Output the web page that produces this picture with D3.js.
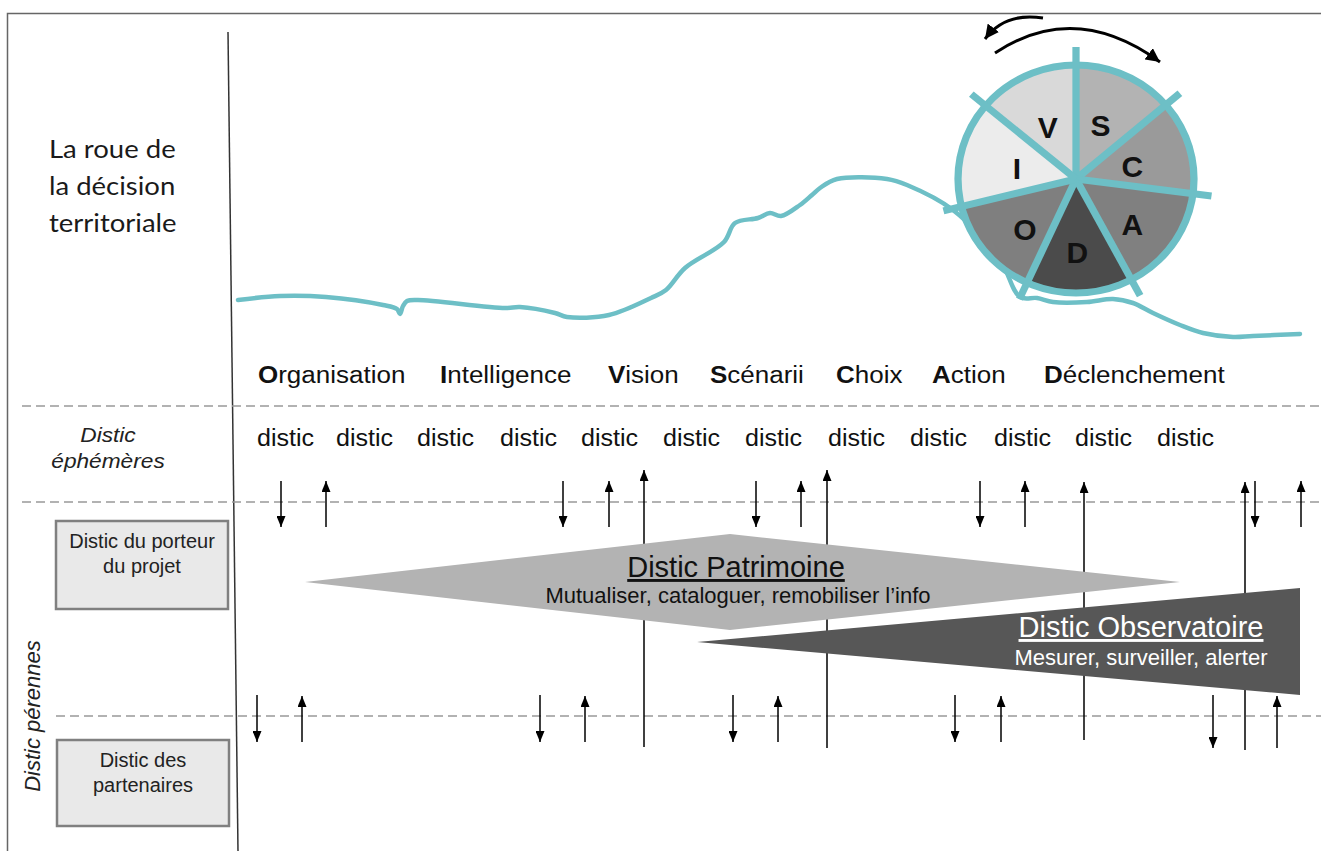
<!DOCTYPE html>
<html>
<head>
<meta charset="utf-8">
<script src="https://cdn.jsdelivr.net/npm/d3@7"></script>
<style>
  body { margin: 0; background: #fff; }
  svg { display: block; }
</style>
</head>
<body>
<div id="chart"></div>
<script>
// --- data (timeline units = px from the separator) ---
const titleLines = ["La roue de", "la décision", "territoriale"];
const phases = ["Organisation", "Intelligence", "Vision", "Scénarii", "Choix", "Action", "Déclenchement"];
const phasePos = [18, 200, 368, 470, 596, 692, 804];
const disticPos = [17, 96, 177, 260, 341, 423, 505, 588, 670, 754, 835, 917];

// small exchange arrows
const upperDown = [41, 323, 516, 740, 1015];
const upperUp = [86, 369, 561, 785, 1061];
const lowerDown = [17, 300, 493, 715, 973];
const lowerUp = [62, 345, 538, 761, 1037];
const lowerEnd = [742, 742, 742, 742, 748];
// long arrows crossing the lanes
const longPos = [404, 587, 844, 1005];
const longTop = [470, 470, 482, 482];
const longBottom = [747, 748, 740, 750];

// wedge shapes [t, y]
const patrimoine = [[65, 582], [490, 534], [940, 582], [490, 630]];
const observatoire = [[457, 642], [1060, 588], [1060, 695]];

// terrain line [t, y]
const terrainT = [-2, 40, 86, 143, 157, 160, 163, 167, 178, 265, 280, 315, 327, 369, 411, 426, 445, 484, 495, 518, 530, 541, 560, 572, 580, 597, 647, 667, 713, 760, 780, 797, 813, 847, 873, 893, 913, 940, 963, 993, 1013, 1060];
const terrainY = [300, 296, 297, 305, 309, 314, 306, 301, 300, 308, 307, 313, 317, 315, 298, 290, 268, 242, 223, 218, 213, 216, 205, 195, 188, 179, 179, 185, 210, 260, 297, 298, 302, 302, 299, 303, 313, 325, 333, 337, 336, 334];

// wheel
const wheelLetters = ["S", "C", "A", "D", "O", "I", "V"];
const wheelBounds = [0, 49.5, 97.4, 152, 204.5, 256, 310, 360];
const wheelShades = ["#b3b3b3", "#9a9a9a", "#808080", "#4b4b4b", "#7f7f7f", "#ececec", "#d9d9d9"];
const letterAngle = [24, 77, 130, 179, 224, 280, 332];
const letterRadius = [58, 56, 71, 74, 71, 58, 58];

// --- layout ---
const W = 1321, H = 851;
const SANS = "'Liberation Sans', Arial, sans-serif";
const TEAL = "#6dbfc6";
const x = d3.scaleLinear().domain([0, 1060]).range([240, 1300]);
const WX = 1076, WY = 179, WR = 114;

const svg = d3.select("#chart").append("svg")
  .attr("width", W).attr("height", H)
  .style("font-family", SANS);

const defs = svg.append("defs");
const marker = (id, w, h) => defs.append("marker")
  .attr("id", id)
  .attr("viewBox", `0 0 ${h} ${w}`)
  .attr("refX", h).attr("refY", w / 2)
  .attr("markerWidth", h).attr("markerHeight", w)
  .attr("markerUnits", "userSpaceOnUse")
  .attr("orient", "auto")
  .append("path")
  .attr("d", `M0,0L${h},${w / 2}L0,${w}Z`)
  .attr("fill", "#000");
marker("head", 9, 11);
marker("bighead", 14, 14);

// stretch text horizontally (the source figure is a bit widened)
function stretch(sel, k) {
  sel.each(function () {
    const w = this.getComputedTextLength();
    d3.select(this).attr("textLength", w * k).attr("lengthAdjust", "spacingAndGlyphs");
  });
}

// frame
svg.append("path")
  .attr("d", `M7.5,${H}V13.5H${W}`)
  .attr("fill", "none").attr("stroke", "#666").attr("stroke-width", 1.5);

// separator
svg.append("line")
  .attr("x1", 228).attr("y1", 32).attr("x2", 238).attr("y2", H)
  .attr("stroke", "#333").attr("stroke-width", 1.5);

// dashed lane borders
[[22, 406], [22, 502], [56, 716]].forEach(([x0, y]) => {
  svg.append("line")
    .attr("x1", x0).attr("x2", W).attr("y1", y).attr("y2", y)
    .attr("stroke", "#999").attr("stroke-width", 1.5)
    .attr("stroke-dasharray", "9,5");
});

// title
const title = svg.append("g").selectAll("text")
  .data(titleLines).enter().append("text")
  .attr("x", 49).attr("y", (d, i) => 158 + i * 37)
  .style("font-family", "Lato, 'Open Sans', sans-serif")
  .style("font-size", "25px").attr("fill", "#1a1a1a")
  .text(d => d);
stretch(title, 1.1);

// terrain
const terrain = terrainT.map((t, i) => [x(t), terrainY[i]]);
svg.append("path")
  .attr("d", d3.line().curve(d3.curveCatmullRom.alpha(0.5))(terrain))
  .attr("fill", "none").attr("stroke", TEAL).attr("stroke-width", 4.5)
  .attr("stroke-linejoin", "round").attr("stroke-linecap", "round");

// wheel (slightly widened like the source)
const rad = a => a * Math.PI / 180;
const wheel = svg.append("g").attr("transform", `translate(${WX},${WY}) scale(1.035,1)`);
const arc = d3.arc().innerRadius(0).outerRadius(WR);
wheel.selectAll("path.sector")
  .data(wheelShades).enter().append("path")
  .attr("class", "sector")
  .attr("d", (c, i) => arc({ startAngle: rad(wheelBounds[i]), endAngle: rad(wheelBounds[i + 1]) }))
  .attr("fill", c => c);
wheel.append("circle").attr("r", WR)
  .attr("fill", "none").attr("stroke", TEAL).attr("stroke-width", 7);
wheel.selectAll("line.spoke")
  .data(wheelBounds.slice(0, -1)).enter().append("line")
  .attr("class", "spoke")
  .attr("x1", 0).attr("y1", 0)
  .attr("x2", a => 132 * Math.sin(rad(a)))
  .attr("y2", a => -132 * Math.cos(rad(a)))
  .attr("stroke", TEAL).attr("stroke-width", 7);
wheel.selectAll("text")
  .data(wheelLetters).enter().append("text")
  .attr("x", (d, i) => letterRadius[i] * Math.sin(rad(letterAngle[i])))
  .attr("y", (d, i) => -letterRadius[i] * Math.cos(rad(letterAngle[i])))
  .attr("text-anchor", "middle").attr("dominant-baseline", "central")
  .style("font-size", "29px").style("font-weight", "bold").attr("fill", "#111")
  .text(d => d);

// rotation arrows above the wheel
const p1 = d3.path(); p1.moveTo(995, 53); p1.quadraticCurveTo(1075, 0, 1160, 62);
const p2 = d3.path(); p2.moveTo(1043, 18); p2.quadraticCurveTo(1005, 12, 985, 39);
[p1, p2].forEach(p => svg.append("path").attr("d", p.toString())
  .attr("fill", "none").attr("stroke", "#000").attr("stroke-width", 3)
  .attr("marker-end", "url(#bighead)"));

// phase labels
const ph = svg.append("g").selectAll("text")
  .data(phases).enter().append("text")
  .attr("x", (d, i) => x(phasePos[i])).attr("y", 383)
  .style("font-size", "23px").attr("fill", "#111");
ph.append("tspan").style("font-weight", "bold").text(d => d[0]);
ph.append("tspan").text(d => d.slice(1));
stretch(ph, 1.13);

// distic row
const dr = svg.append("g").selectAll("text")
  .data(disticPos).enter().append("text")
  .attr("x", d => x(d)).attr("y", 446)
  .style("font-size", "23px").attr("fill", "#111")
  .text("distic");
stretch(dr, 1.09);

// left labels
const eph = svg.append("g").selectAll("text")
  .data(["Distic", "éphémères"]).enter().append("text")
  .attr("x", 108).attr("y", (d, i) => 442 + i * 26)
  .attr("text-anchor", "middle")
  .style("font-size", "21px").style("font-style", "italic").attr("fill", "#222")
  .text(d => d);
stretch(eph, 1.08);

svg.append("text")
  .attr("transform", "translate(40,716) rotate(-90)")
  .attr("text-anchor", "middle")
  .style("font-size", "22px").style("font-style", "italic").attr("fill", "#222")
  .text("Distic pérennes");

const boxes = [
  { x0: 56, y0: 521, x1: 228, y1: 609, lines: ["Distic du porteur", "du projet"], y: 548 },
  { x0: 57, y0: 740, x1: 229, y1: 826, lines: ["Distic des", "partenaires"], y: 767 }
];
boxes.forEach(b => {
  svg.append("rect")
    .attr("x", b.x0).attr("y", b.y0)
    .attr("width", b.x1 - b.x0).attr("height", b.y1 - b.y0)
    .attr("fill", "#e9e9e9").attr("stroke", "#808080").attr("stroke-width", 2.5);
  svg.append("g").selectAll("text")
    .data(b.lines).enter().append("text")
    .attr("x", (b.x0 + b.x1) / 2).attr("y", (d, i) => b.y + i * 25)
    .attr("text-anchor", "middle")
    .style("font-size", "20px").attr("fill", "#222")
    .text(d => d);
});

// long arrows
svg.append("g").selectAll("line")
  .data(longPos).enter().append("line")
  .attr("x1", d => x(d)).attr("x2", d => x(d))
  .attr("y1", (d, i) => longBottom[i]).attr("y2", (d, i) => longTop[i])
  .attr("stroke", "#000").attr("stroke-width", 1.5)
  .attr("marker-end", "url(#head)");

// small arrows
function arrows(pos, yFrom, yTo) {
  svg.append("g").selectAll("line")
    .data(pos).enter().append("line")
    .attr("x1", d => x(d)).attr("x2", d => x(d))
    .attr("y1", (d, i) => typeof yFrom === "function" ? yFrom(i) : yFrom)
    .attr("y2", (d, i) => typeof yTo === "function" ? yTo(i) : yTo)
    .attr("stroke", "#000").attr("stroke-width", 1.5)
    .attr("marker-end", "url(#head)");
}
arrows(upperDown, 481, 527);
arrows(upperUp, 527, 481);
arrows(lowerDown, 695, i => lowerEnd[i]);
arrows(lowerUp, i => lowerEnd[i], 696);

// wedge shapes
const poly = pts => "M" + pts.map(([t, y]) => `${x(t)},${y}`).join("L") + "Z";
svg.append("path").attr("d", poly(patrimoine)).attr("fill", "#b3b3b3");
svg.append("path").attr("d", poly(observatoire)).attr("fill", "#575757");

svg.append("text").attr("x", 736).attr("y", 577)
  .attr("text-anchor", "middle").attr("text-decoration", "underline")
  .style("font-size", "29px").attr("fill", "#111").text("Distic Patrimoine");
svg.append("text").attr("x", 738).attr("y", 603)
  .attr("text-anchor", "middle")
  .style("font-size", "22px").attr("fill", "#111").text("Mutualiser, cataloguer, remobiliser l’info");
svg.append("text").attr("x", 1141).attr("y", 637)
  .attr("text-anchor", "middle").attr("text-decoration", "underline")
  .style("font-size", "29px").attr("fill", "#fff").text("Distic Observatoire");
svg.append("text").attr("x", 1141).attr("y", 665)
  .attr("text-anchor", "middle")
  .style("font-size", "22px").attr("fill", "#fff").text("Mesurer, surveiller, alerter");
</script>
</body>
</html>
